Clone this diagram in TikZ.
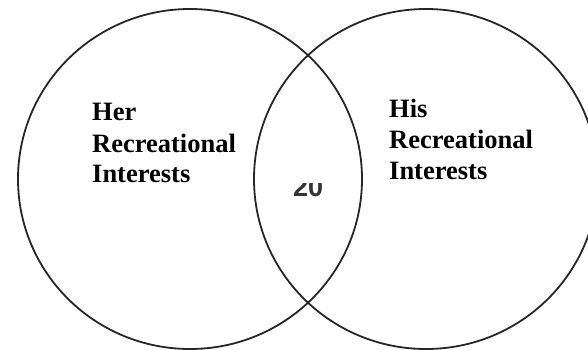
\documentclass[tikz,border=0pt]{standalone}
\usepackage{fontspec}
\setmainfont{Liberation Serif}
\newfontfamily\numfont{Liberation Sans}
\begin{document}
\begin{tikzpicture}[x=1pt,y=-1pt,
  venn/.style={draw=black!85,line width=1.8pt},
  lbl/.style={font=\fontsize{26.5}{30.5}\selectfont\bfseries,inner sep=0pt,anchor=base west},
  num/.style={font=\numfont\bfseries\fontsize{27}{29}\selectfont,text=black!80,inner sep=0pt,anchor=base west}]
\useasboundingbox (0,0) rectangle (588,350);
\draw[venn] (190,179) ellipse [x radius=172, y radius=170];
\draw[venn] (426,179) ellipse [x radius=172, y radius=170];
\node[lbl] (her1) at (92,121) {Her};
\node[lbl] (her2) at (92,152.3) {Recreational};
\node[lbl] (her3) at (92,182.7) {Interests};
\node[lbl] (his1) at (389,117.3) {His};
\node[lbl] (his2) at (389,148.3) {Recreational};
\node[lbl] (his3) at (389,179.3) {Interests};
\begin{scope}
\clip (280,183) rectangle (340,205);
\node[num] (n20) at (293,196) {20};
\end{scope}
\end{tikzpicture}
\end{document}
